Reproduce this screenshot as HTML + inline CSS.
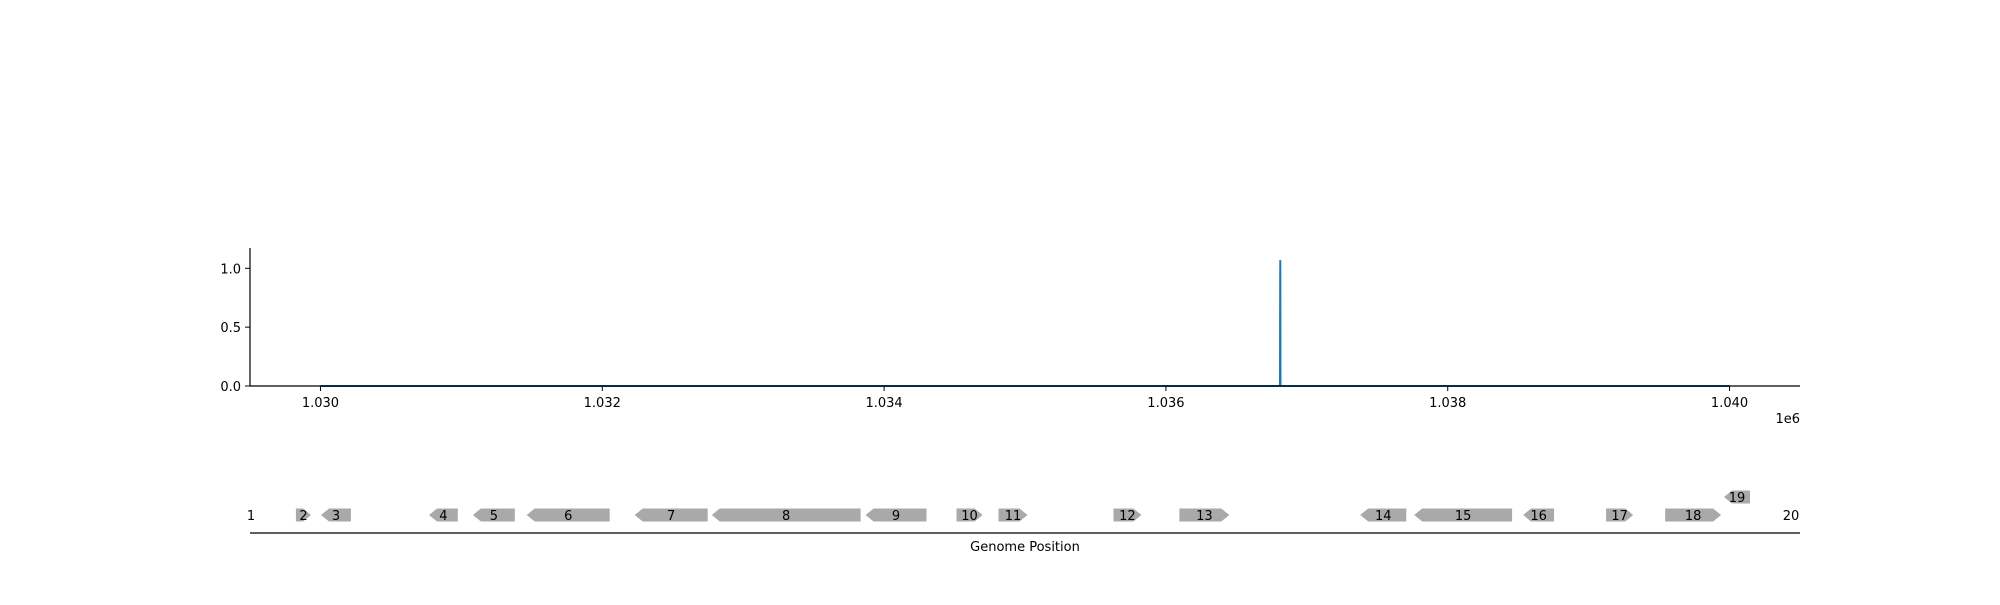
<!DOCTYPE html>
<html><head><meta charset="utf-8"><style>
html,body{margin:0;padding:0;background:#fff;}
svg text{font-family:"DejaVu Sans","Liberation Sans",sans-serif;font-size:13px;fill:#000;}
</style></head><body>
<svg id="chart" width="2000" height="600" viewBox="0 0 2000 600" xmlns="http://www.w3.org/2000/svg"></svg>
<script>
// ---- data ----
const xTicks = [1030000, 1032000, 1034000, 1036000, 1038000, 1040000];
const xTickLabels = ["1.030", "1.032", "1.034", "1.036", "1.038", "1.040"];
const yTicks = [0, 0.5, 1.0];
const yTickLabels = ["0.0", "0.5", "1.0"];
const seriesX = [1030000, 1036810, 1036811, 1036812, 1036813, 1040000];
const seriesY = [0, 0, 0.92, 1.07, 0, 0];
const geneLabels = ["1","2","3","4","5","6","7","8","9","10","11","12","13","14","15","16","17","18","19","20"];
const geneStarts = [1029507,1029826,1030004,1030770,1031082,1031464,1032230,1032777,1033869,1034514,1034812,1035628,1036096,1037379,1037762,1038535,1039124,1039543,1039961,1040436];
const geneEnds   = [1029507,1029933,1030216,1030975,1031379,1032053,1032748,1033833,1034301,1034699,1035018,1035826,1036450,1037706,1038457,1038755,1039316,1039940,1040145,1040436];
const geneStrands = [1,1,-1,-1,-1,-1,-1,-1,-1,1,1,1,1,-1,-1,-1,1,1,-1,1];
const geneRows = [0,0,0,0,0,0,0,0,0,0,0,0,0,0,0,0,0,0,1,0];

// ---- axes ----
const X0 = 250, X1 = 1800, XMIN = 1029500, XMAX = 1040500;
const Y0 = 386, YPX = 117.7;
const sx = v => X0 + (v - XMIN) / (XMAX - XMIN) * (X1 - X0);
const sy = v => Y0 - v * YPX;
const svg = document.getElementById('chart');
const NS = 'http://www.w3.org/2000/svg';
function mk(tag, attrs, text) {
  const e = document.createElementNS(NS, tag);
  for (const k in attrs) e.setAttribute(k, attrs[k]);
  if (text !== undefined) e.textContent = text;
  svg.appendChild(e);
  return e;
}
let e;
// series
let d = seriesX.map((x, i) => (i ? 'L' : 'M') + sx(x).toFixed(1) + ',' + sy(seriesY[i]).toFixed(1)).join(' ');
e = mk('path', {d: d, fill: 'none', stroke: '#1f77b4', 'stroke-width': 2});


// spines
e = mk('line', {x1: X0, y1: 248, x2: X0, y2: Y0, stroke: '#000', 'stroke-width': 1.2});


e = mk('line', {x1: X0, y1: Y0, x2: X1, y2: Y0, stroke: '#000', 'stroke-width': 1.2});


xTicks.forEach((t, i) => {
  e = mk('line', {x1: sx(t), y1: Y0, x2: sx(t), y2: Y0 + 5, stroke: '#000', 'stroke-width': 1});
  
  
  e = mk('text', {x: sx(t), y: Y0 + 21, 'text-anchor': 'middle'}, xTickLabels[i]);
  
  
});
yTicks.forEach((t, i) => {
  e = mk('line', {x1: X0 - 5, y1: sy(t), x2: X0, y2: sy(t), stroke: '#000', 'stroke-width': 1});
  
  
  e = mk('text', {x: X0 - 9, y: sy(t) + 5, 'text-anchor': 'end'}, yTickLabels[i]);
  
  
});
e = mk('text', {x: 1800, y: 423, 'text-anchor': 'end'}, '1e6');



// gene track
const ROW0 = 515, ROWSTEP = 18, H = 13, AH = 8;
geneLabels.forEach((lab, i) => {
  const a = sx(geneStarts[i]), b = sx(geneEnds[i]);
  const cy = ROW0 - geneRows[i] * ROWSTEP;
  const w = b - a;
  if (w > 0.5) {
    const ah = Math.min(AH, w);
    let pts;
    if (geneStrands[i] > 0) {
      pts = [[a, cy - H/2], [b - ah, cy - H/2], [b, cy], [b - ah, cy + H/2], [a, cy + H/2]];
    } else {
      pts = [[a + ah, cy - H/2], [b, cy - H/2], [b, cy + H/2], [a + ah, cy + H/2], [a, cy]];
    }
    e = mk('polygon', {points: pts.map(p => p[0].toFixed(1) + ',' + p[1].toFixed(1)).join(' '), fill: '#a9a9a9'});
    
    
  }
  e = mk('text', {x: (a + b) / 2, y: cy + 5, 'text-anchor': 'middle'}, lab);
  
  
});
e = mk('line', {x1: X0, y1: 533, x2: X1, y2: 533, stroke: '#000', 'stroke-width': 1.2});


e = mk('text', {x: 1025, y: 551, 'text-anchor': 'middle'}, 'Genome Position');


</script>
</body></html>
